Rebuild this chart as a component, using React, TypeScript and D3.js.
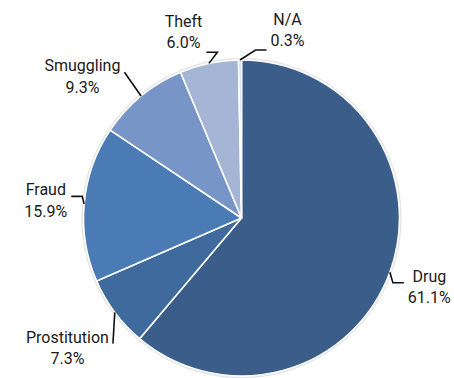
import * as d3 from 'd3';

const WIDTH = 454;
const HEIGHT = 378;
const CENTER = { x: 241.5, y: 218 };
const RADIUS = 158;
const LABEL_GAP = 16;
const MIN_LABEL_SEP = 31; // degrees between neighbouring labels
const FONT = 'Roboto, sans-serif';
const FONT_SIZE = 16;
const CAP = 11.5;
const LINE_HEIGHT = 21.5;

// data
const categories = ['Drug', 'Prostitution', 'Fraud', 'Smuggling', 'Theft', 'N/A'];
const shares = [61.1, 7.3, 15.9, 9.3, 6.0, 0.3];
const colors = ['#3b5d8a', '#3f6a9e', '#4a7bb5', '#7795c6', '#a4b5d5', '#c9d5ea'];

const measure = (() => {
    const ctx = document.createElement('canvas').getContext('2d');
    return (s: string) => {
        if (!ctx) return s.length * 8;
        ctx.font = `${FONT_SIZE}px ${FONT}`;
        return ctx.measureText(s).width;
    };
})();

const toRad = (deg: number) => (deg * Math.PI) / 180;

export default function App() {
    const pie = d3.pie<number>().sort(null).value((d) => d);
    const arcs = pie(shares);
    const arc = d3.arc<d3.PieArcDatum<number>>().innerRadius(0).outerRadius(RADIUS);

    // mid angles in degrees, clockwise from 12 o'clock
    const mids = arcs.map((a) => ((a.startAngle + a.endAngle) / 2) * (180 / Math.PI));

    // spread out labels that sit too close together
    const order = d3.range(mids.length).sort((a, b) => mids[a] - mids[b]);
    const ang = order.map((i) => mids[i]);
    for (let k = 0; k < 300; k++) {
        for (let j = 0; j < ang.length - 1; j++) {
            const gap = ang[j + 1] - ang[j];
            if (gap < MIN_LABEL_SEP) {
                const push = (MIN_LABEL_SEP - gap) / 2;
                ang[j] -= push;
                ang[j + 1] += push;
            }
        }
    }
    const labelAngle: number[] = [];
    order.forEach((i, j) => (labelAngle[i] = ang[j]));

    const labels = arcs.map((a, i) => {
        const pct = `${shares[i].toFixed(1)}%`;
        const w = Math.max(measure(categories[i]), measure(pct));
        const h = CAP + LINE_HEIGHT;
        const th = toRad(labelAngle[i]);
        const ux = Math.sin(th);
        const uy = -Math.cos(th);
        // push the box out until its nearest point clears the pie
        let t = RADIUS;
        let cx = 0;
        let cy = 0;
        for (; t < 400; t += 0.5) {
            cx = CENTER.x + t * ux;
            cy = CENTER.y + t * uy;
            const nx = Math.max(cx - w / 2, Math.min(CENTER.x, cx + w / 2));
            const ny = Math.max(cy - h / 2, Math.min(CENTER.y, cy + h / 2));
            if (Math.hypot(nx - CENTER.x, ny - CENTER.y) >= RADIUS + LABEL_GAP) break;
        }
        const top = cy - h / 2;
        const bottom = cy + h / 2;
        const right = cx > CENTER.x;
        const upper = Math.cos(th) > 0.85;
        const diagonal = Math.abs(ux) > 0.55 && Math.abs(uy) > 0.55;
        const endY = upper ? bottom + 4 : cy - 4;
        const endX = right ? cx - w / 2 - 4 : cx + w / 2 + 4;
        const elbowX = right ? endX - 11 : endX + 11;
        const m = toRad(mids[i]);
        const p0: [number, number] = [CENTER.x + RADIUS * Math.sin(m), CENTER.y - RADIUS * Math.cos(m)];
        const pts: [number, number][] = diagonal
            ? [p0, [endX, endY]]
            : [p0, [elbowX, endY], [endX, endY]];
        const path = d3.line()(pts) ?? '';
        return { cx, top, pct, path, name: categories[i] };
    });

    return (
        <svg
            width={WIDTH}
            height={HEIGHT}
            style={{ position: 'absolute', left: 0, top: 0, background: '#fff' }}
        >
            <g transform={`translate(${CENTER.x},${CENTER.y})`}>
                <circle r={RADIUS + 1} fill="none" stroke="#000" strokeOpacity={0.1} strokeWidth={2.5} />
                {arcs.map((a, i) => (
                    <path key={i} d={arc(a) ?? ''} fill={colors[i]} stroke="#fff" strokeWidth={1.6} strokeLinejoin="round" />
                ))}
            </g>
            {labels.map((l, i) => (
                <g key={i}>
                    <path d={l.path} fill="none" stroke="#111" strokeWidth={1.6} />
                    <text
                        x={l.cx}
                        textAnchor="middle"
                        fontFamily={FONT}
                        fontSize={FONT_SIZE}
                        fill="#1a1a1a"
                    >
                        <tspan x={l.cx} y={l.top + CAP}>{l.name}</tspan>
                        <tspan x={l.cx} y={l.top + CAP + LINE_HEIGHT}>{l.pct}</tspan>
                    </text>
                </g>
            ))}
        </svg>
    );
}
